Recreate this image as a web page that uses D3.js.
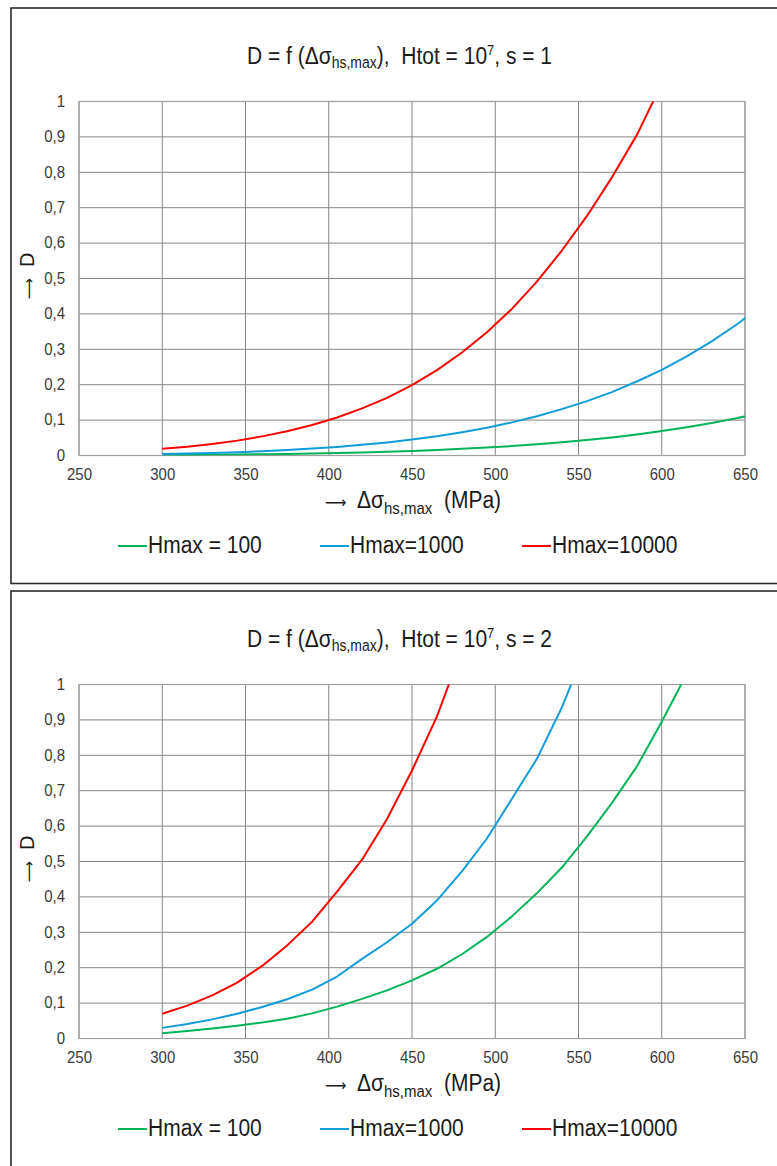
<!DOCTYPE html>
<html>
<head>
<meta charset="utf-8">
<script src="https://cdn.jsdelivr.net/npm/d3@7/dist/d3.min.js"></script>
<style>
  html, body { margin: 0; padding: 0; background: #fff; }
  svg { display: block; }
  text { font-family: "Liberation Sans", Arial, sans-serif; white-space: pre; }
</style>
</head>
<body>
<svg id="chart" width="777" height="1166"></svg>
<script>
// ---- data ----
const sigma = [300,315,330,345,360,375,390,405,420,435,450,465,480,495,510,525,540,555,570,585,600,615,630,645,660];

// s = 1
const green1 = [0.0012,0.0016,0.0021,0.0027,0.0035,0.0044,0.0056,0.0069,0.0086,0.0105,0.0128,0.0155,0.0188,0.0224,0.0267,0.0316,0.0373,0.0437,0.0510,0.0596,0.0690,0.0798,0.0919,0.1055,0.1206];
const blue1  = [0.0043,0.0056,0.0073,0.0095,0.0122,0.0155,0.0195,0.0243,0.0301,0.0368,0.045,0.0545,0.0658,0.0786,0.0936,0.111,0.131,0.1535,0.179,0.209,0.242,0.280,0.3225,0.370,0.423];
const red1   = [0.019,0.0247,0.0325,0.042,0.054,0.0686,0.086,0.1075,0.133,0.163,0.199,0.241,0.291,0.348,0.414,0.491,0.579,0.676,0.785,0.905,1.05];

// s = 2
const green2 = [0.015,0.021,0.028,0.036,0.045,0.056,0.071,0.090,0.112,0.136,0.164,0.197,0.238,0.287,0.345,0.410,0.483,0.570,0.665,0.768,0.895,1.03];
const blue2  = [0.030,0.041,0.054,0.070,0.089,0.111,0.138,0.175,0.225,0.272,0.324,0.390,0.472,0.565,0.677,0.790,0.935,1.11];
const red2   = [0.070,0.093,0.122,0.158,0.205,0.263,0.330,0.415,0.505,0.620,0.757,0.910,1.10];

const seriesNames = ["Hmax = 100", "Hmax=1000", "Hmax=10000"];
const seriesColors = ["#00b358", "#119cd9", "#ff0000"];
const xTicks = [250,300,350,400,450,500,550,600,650];
const yTicks = [0,0.1,0.2,0.3,0.4,0.5,0.6,0.7,0.8,0.9,1];
const sValues = ["1", "2"];

const panels = [
  { top: 8,   s: sValues[0], series: [green1, blue1, red1] },
  { top: 591, s: sValues[1], series: [green2, blue2, red2] }
];

// ---- drawing ----
const svg = d3.select("#chart");
const plotLeft = 79, plotRight = 745, plotTopOff = 93.5, plotH = 354;
const STRETCH = 1.12;
const TXT = "#1a1a1a";
const ARROW = "\u27F6";

const fmtY = d => d === 0 ? "0" : d === 1 ? "1" : d3.format(".1f")(d).replace(".", ",");

function stretchedText(parent, x, y, size, anchor) {
  return parent.append("text")
    .attr("transform", `translate(${x},${y}) scale(1,${STRETCH})`)
    .attr("text-anchor", anchor || "start")
    .attr("xml:space", "preserve")
    .attr("font-size", size).attr("fill", TXT);
}

panels.forEach((p, pi) => {
  const g = svg.append("g");
  // panel border
  g.append("rect")
    .attr("x", 11).attr("y", p.top)
    .attr("width", 800).attr("height", pi === 0 ? 575.5 : 700)
    .attr("fill", "none").attr("stroke", "#2a2a2a").attr("stroke-width", 1.6);

  const y0 = p.top + plotTopOff;
  const x = d3.scaleLinear().domain([250, 650]).range([plotLeft, plotRight]);
  const y = d3.scaleLinear().domain([0, 1]).range([y0 + plotH, y0]);

  // gridlines
  g.append("g").selectAll("line").data(xTicks).join("line")
    .attr("x1", d => x(d)).attr("x2", d => x(d))
    .attr("y1", y(0)).attr("y2", y(1))
    .attr("stroke", "#858585").attr("stroke-width", 1);
  g.append("g").selectAll("line").data(yTicks).join("line")
    .attr("x1", x(250)).attr("x2", x(650))
    .attr("y1", d => y(d)).attr("y2", d => y(d))
    .attr("stroke", "#858585").attr("stroke-width", 1);
  // plot border
  g.append("rect").attr("x", x(250)).attr("y", y(1))
    .attr("width", x(650) - x(250)).attr("height", y(0) - y(1))
    .attr("fill", "none").attr("stroke", "#a0a0a0").attr("stroke-width", 1.2);

  // axes labels via d3 axes
  const xAxis = g.append("g").attr("transform", `translate(0,${y(0)})`)
    .call(d3.axisBottom(x).tickValues(xTicks).tickSize(0).tickPadding(11).tickFormat(d3.format("d")));
  xAxis.select(".domain").remove();
  xAxis.selectAll("text").attr("font-size", 15).attr("fill", "#3a3a3a")
    .attr("font-family", "'Liberation Sans', Arial, sans-serif")
    .attr("transform", `scale(1,${STRETCH})`);

  const yAxis = g.append("g").attr("transform", `translate(${x(250)},0)`)
    .call(d3.axisLeft(y).tickValues(yTicks).tickSize(0).tickPadding(14).tickFormat(fmtY));
  yAxis.select(".domain").remove();
  yAxis.selectAll("text").attr("font-size", 15).attr("fill", "#3a3a3a")
    .attr("font-family", "'Liberation Sans', Arial, sans-serif")
    .attr("dy", "0.28em")
    .attr("transform", `scale(1,${STRETCH})`);

  // clip
  const clipId = "clip" + pi;
  g.append("clipPath").attr("id", clipId).append("rect")
    .attr("x", x(250)).attr("y", y(1)).attr("width", x(650) - x(250)).attr("height", y(0) - y(1));

  const line = d3.line().x((d, i) => x(sigma[i])).y(d => y(d));
  const lines = g.append("g").attr("clip-path", `url(#${clipId})`);
  p.series.forEach((vals, si) => {
    lines.append("path").datum(vals)
      .attr("d", line)
      .attr("fill", "none")
      .attr("stroke", seriesColors[si])
      .attr("stroke-width", 2)
      .attr("stroke-linejoin", "round");
  });

  // title
  const t = stretchedText(g, 247, p.top + 56, 21, "start");
  t.append("tspan").text("D = f (\u0394\u03c3");
  t.append("tspan").attr("font-size", 14).attr("dy", 4).text("hs,max");
  t.append("tspan").attr("dy", -4).text("),  Htot = 10");
  t.append("tspan").attr("font-size", 13).attr("dy", -8).text("7");
  t.append("tspan").attr("dy", 8).text(", s = " + p.s);

  // x axis title
  const xt = stretchedText(g, 325, p.top + 500, 21, "start");
  xt.append("tspan").attr("font-family", "'DejaVu Sans', sans-serif").attr("font-size", 15).text(ARROW);
  xt.append("tspan").text("  \u0394\u03c3");
  xt.append("tspan").attr("font-size", 15).attr("dy", 5).text("hs,max");
  xt.append("tspan").attr("dy", -5).text("  (MPa)");

  // y axis title
  const yt = g.append("text")
    .attr("transform", `translate(34,${p.top + 268}) rotate(-90)`)
    .attr("xml:space", "preserve")
    .attr("text-anchor", "middle").attr("font-size", 20).attr("fill", TXT);
  yt.append("tspan").attr("font-family", "'DejaVu Sans', sans-serif").attr("font-size", 15).text(ARROW);
  yt.append("tspan").text("  D");

  // legend
  const legX = [118, 320, 522];
  const legY = p.top + 538;
  seriesNames.forEach((name, si) => {
    g.append("line").attr("x1", legX[si]).attr("x2", legX[si] + 29)
      .attr("y1", legY).attr("y2", legY)
      .attr("stroke", seriesColors[si]).attr("stroke-width", 2);
    stretchedText(g, legX[si] + 30, legY + 7, 21).text(name);
  });
});
</script>
</body>
</html>
